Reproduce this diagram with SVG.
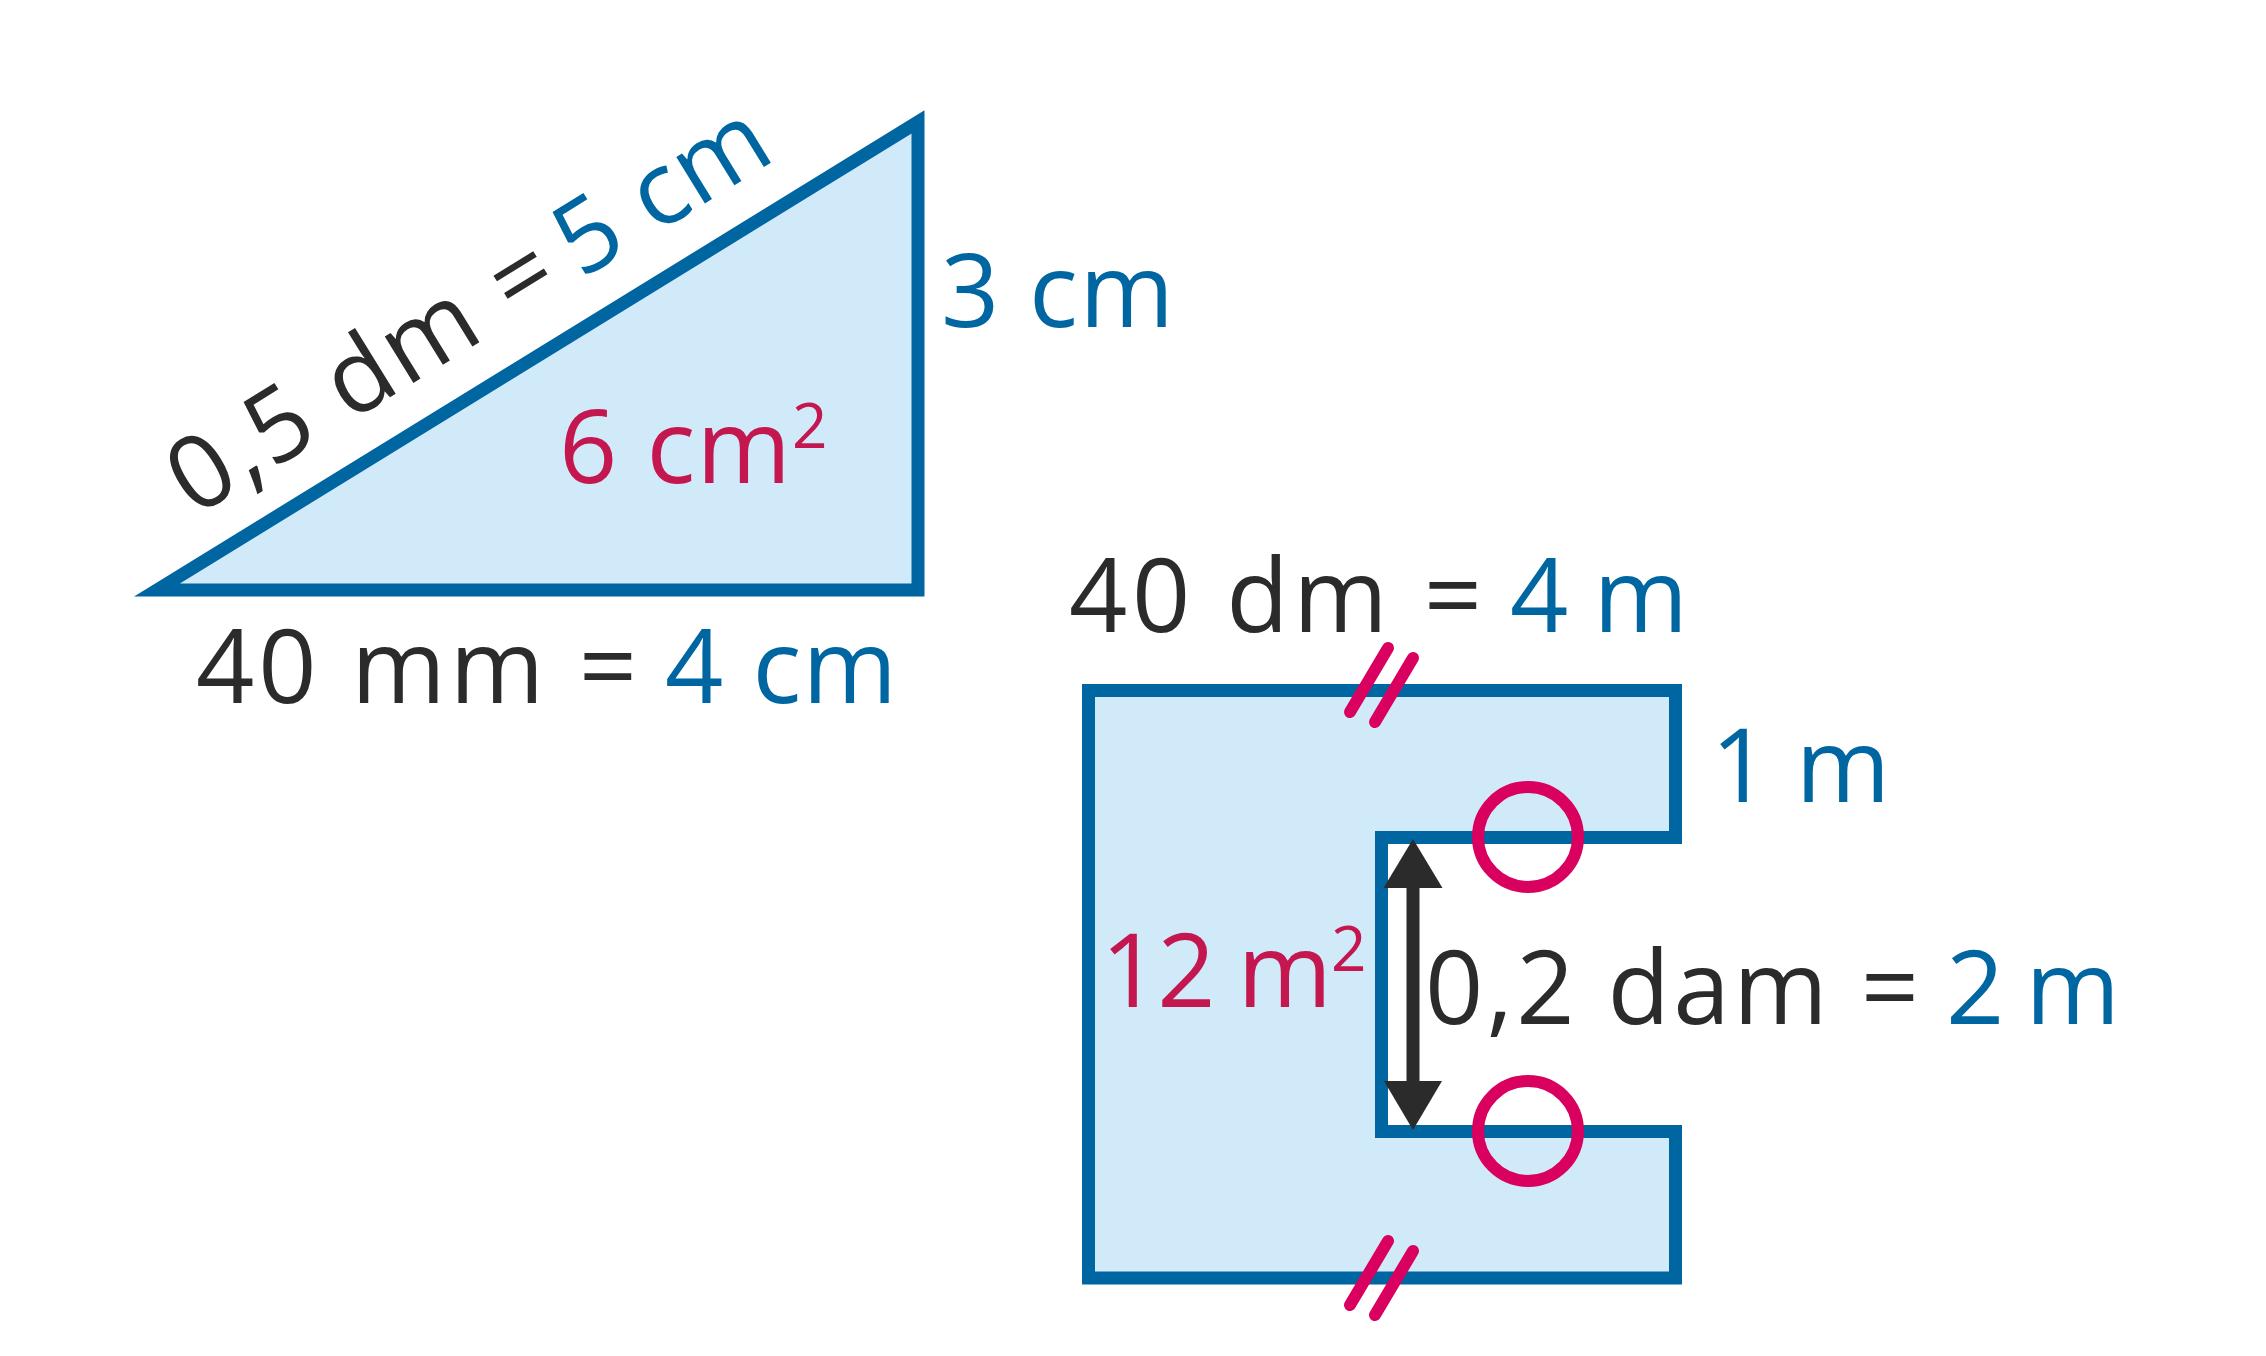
<svg xmlns="http://www.w3.org/2000/svg" width="2266" height="1356" viewBox="0 0 2266 1356">
<style>
text{font-family:"Open Sans","Noto Sans","Liberation Sans",sans-serif;font-size:102px;}
.dk{fill:#2b2b2b;}
.bl{fill:#0066a2;}
.rd{fill:#c4174f;}
.sup{font-size:62px;}
.shape{fill:#d0eaf9;stroke:#0066a2;stroke-width:13;stroke-linejoin:miter;}
.mark{fill:none;stroke:#d9005f;stroke-width:12;stroke-linecap:round;}
</style>
<rect width="2266" height="1356" fill="#ffffff"/>
<g id="triangle">
<path class="shape" d="M157,590 L918,122 L918,590 Z"/>
<g transform="translate(157,590) rotate(-31.6)">
<text class="dk" x="70" y="-42" textLength="434" lengthAdjust="spacing">0,5 dm =</text>
<text class="bl" x="524" y="-42" textLength="231" lengthAdjust="spacing">5 cm</text>
</g>
<text class="bl" x="941" y="327" textLength="233" lengthAdjust="spacing">3 cm</text>
<text class="rd" x="559" y="483" textLength="232" lengthAdjust="spacing">6 cm</text>
<text class="rd sup" x="792" y="448">2</text>
<text class="dk" x="196" y="703" textLength="441" lengthAdjust="spacing">40 mm =</text>
<text class="bl" x="665" y="703" textLength="232" lengthAdjust="spacing">4 cm</text>
</g>
<g id="cshape">
<path class="shape" d="M1088.5,690.5 H1675.5 V837.5 H1381.5 V1131.5 H1675.5 V1278 H1088.5 Z"/>
<text class="dk" x="1069" y="632" textLength="413" lengthAdjust="spacing">40 dm =</text>
<text class="bl" x="1510" y="632" textLength="178" lengthAdjust="spacing">4 m</text>
<text class="bl" x="1711" y="802">1 m</text>
<text class="rd" x="1101" y="1007" textLength="231" lengthAdjust="spacing">12 m</text>
<text class="rd sup" x="1331" y="971">2</text>
<text class="dk" x="1425" y="1024" textLength="494" lengthAdjust="spacing">0,2 dam =</text>
<text class="bl" x="1946" y="1024" textLength="174" lengthAdjust="spacing">2 m</text>
</g>
<g id="marks">
<line class="mark" x1="1388" y1="648" x2="1350" y2="712"/>
<line class="mark" x1="1413" y1="658" x2="1375" y2="722"/>
<line class="mark" x1="1388" y1="1241" x2="1350" y2="1305"/>
<line class="mark" x1="1413" y1="1251" x2="1375" y2="1315"/>
<circle class="mark" cx="1528" cy="837" r="50"/>
<circle class="mark" cx="1528" cy="1131" r="50"/>
</g>
<g id="connectors">
<line x1="1413" y1="885" x2="1413" y2="1084" stroke="#2b2b2b" stroke-width="13"/>
<polygon points="1413,839 1383.5,888 1442.5,888" fill="#2b2b2b"/>
<polygon points="1413,1130 1384,1081 1442,1081" fill="#2b2b2b"/>
</g>
</svg>
